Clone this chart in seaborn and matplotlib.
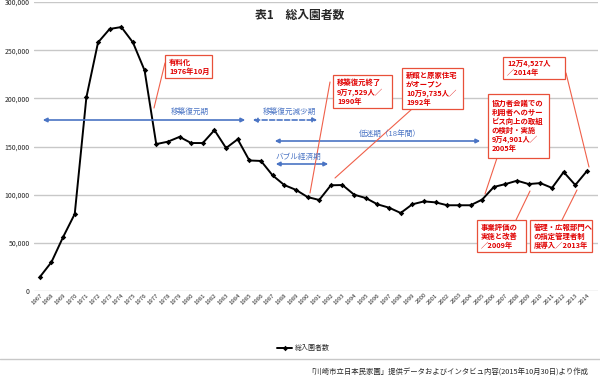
import matplotlib
matplotlib.use("Agg")
import matplotlib.pyplot as plt
import seaborn as sns
import pandas as pd
from matplotlib.lines import Line2D
from matplotlib.patches import FancyArrowPatch

sns.set_theme(style="white")
plt.rcParams['font.family'] = ['Noto Sans CJK JP', 'DejaVu Sans']

years = list(range(1967, 2015))
visitors = [14500, 30000, 56000, 80000, 201000, 258000, 272000, 274000, 258000, 229000,
            152500, 155000, 160000, 153600, 153600, 167000, 148400, 157500, 135500, 135000,
            120000, 110000, 105000, 97529, 94500, 109735, 110000, 100000, 96500, 90000,
            86500, 81000, 90000, 93000, 92000, 89000, 89000, 89000, 94901, 108000,
            111000, 114500, 111000, 112000, 107000, 123500, 110000, 124527]
series_name = "総入園者数"
title = "表1　総入園者数"
source = "「川崎市立日本民家園」提供データおよびインタビュ内容(2015年10月30日)より作成"
yticks = [0, 50000, 100000, 150000, 200000, 250000, 300000]

df = pd.DataFrame({"year": years, "visitors": visitors})

W, H = 600, 386
fig = plt.figure(figsize=(6, 3.86), dpi=100)
ax = fig.add_axes([34 / W, 1 - 291 / H, (598 - 34) / W, (291 - 2) / H])

sns.lineplot(data=df, x="year", y="visitors", ax=ax, color="black", linewidth=1.4,
             marker="D", markersize=2.8, markeredgewidth=0, legend=False)

ax.set_xlim(1966.5, 2014.95)
ax.set_ylim(0, 300000)
ax.set_yticks(yticks)
ax.set_yticklabels([f"{v:,}" for v in yticks], fontsize=5)
ax.set_xticks(years)
ax.set_xticklabels([str(y) for y in years], rotation=45, fontsize=4.3, ha="right",
                   rotation_mode="anchor")
ax.tick_params(axis="x", pad=1, length=0)
ax.tick_params(axis="y", pad=3, length=0)
ax.set_xlabel("")
ax.set_ylabel("")
for s in ax.spines.values():
    s.set_visible(False)
ax.grid(axis="y", color="#c8c8c8", linewidth=1.0)
ax.set_axisbelow(True)


def F(px, py):
    return (px / W, 1 - py / H)


# title
fig.text(*F(300, 15), title, ha="center", va="center", fontsize=8.5, fontweight="bold")

blue = "#4a74c4"
red_txt = "#e00000"
red_edge = "#e8503a"
red_line = "#f0604a"


def harrow(x0, x1, y, style="-"):
    a = FancyArrowPatch(F(x0, y), F(x1, y), transform=fig.transFigure,
                        arrowstyle="<|-|>", mutation_scale=6, color=blue,
                        linewidth=1.2, linestyle=style)
    fig.add_artist(a)


def btext(x, y, s):
    fig.text(*F(x, y), s, ha="center", va="center", fontsize=5.5, color=blue)


harrow(40, 248, 120)
btext(190, 112, "移築復元期")
harrow(250, 320, 120, style=(0, (3, 1.5)))
btext(289, 112, "移築復元減少期")
harrow(272, 483, 141)
btext(390, 134, "低迷期（18年間）")
harrow(273, 331, 164)
btext(298, 157, "バブル経済期")


def rbox(x0, y0, x1, y1, s, fs=5.3):
    r = plt.Rectangle(F(x0, y1), (x1 - x0) / W, (y1 - y0) / H, transform=fig.transFigure,
                      fill=True, facecolor="white", edgecolor=red_edge, linewidth=0.9,
                      zorder=2)
    fig.add_artist(r)
    fig.text(*F(x0 + 4, (y0 + y1) / 2), s, ha="left", va="center", fontsize=fs,
             color=red_txt, fontweight="bold", linespacing=1.25, zorder=3)


def leader(x0, y0, x1, y1):
    fig.add_artist(Line2D([x0 / W, x1 / W], [1 - y0 / H, 1 - y1 / H],
                          transform=fig.transFigure, color=red_line, linewidth=0.8))


leader(165, 63, 154, 108)
rbox(165, 55, 212, 78, "有料化\n1976年10月")
leader(330, 82, 310, 193)
rbox(333, 75, 392, 108, "移築復元終了\n9万7,529人／\n1990年")
leader(412, 109, 335, 178)
rbox(402, 68, 463, 109, "新館と原家住宅\nがオープン\n10万9,735人／\n1992年")
leader(497, 158, 485, 194)
rbox(488, 94, 549, 158, "協力者会議での\n利用者へのサー\nビス向上の取組\nの検討・実施\n9万4,901人／\n2005年")
leader(566, 73, 589, 167)
rbox(503, 57, 565, 79, "12万4,527人\n／2014年")
leader(516, 220, 530, 191)
rbox(477, 220, 526, 252, "事業評価の\n実施と改善\n／2009年")
leader(562, 220, 577, 190)
rbox(530, 220, 592, 252, "管理・広報部門へ\nの指定管理者制\n度導入／2013年")

# legend
fig.add_artist(Line2D([277 / W, 284.5 / W, 292 / W], [1 - 348 / H] * 3,
                      transform=fig.transFigure, color="black", linewidth=1.4,
                      marker="D", markersize=2.8, markevery=[1], markeredgewidth=0))
fig.text(*F(295, 348), series_name, ha="left", va="center", fontsize=5)

# bottom border and source
fig.add_artist(Line2D([0, 1], [1 - 359 / H] * 2, transform=fig.transFigure,
                      color="#c8c8c8", linewidth=1.0))
fig.text(*F(588, 373), source, ha="right", va="center", fontsize=5.3)

fig.savefig("out.png", dpi=100)
